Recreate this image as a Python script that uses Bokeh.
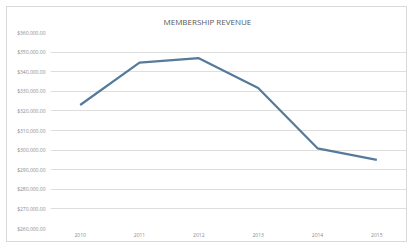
from bokeh.plotting import figure
from bokeh.models import FixedTicker, NumeralTickFormatter, Range1d
from bokeh.embed import file_html
from bokeh.resources import INLINE

years = ["2010", "2011", "2012", "2013", "2014", "2015"]
revenue = [323000, 344600, 346900, 331700, 300900, 295000]
y_ticks = [260000, 270000, 280000, 290000, 300000, 310000, 320000, 330000, 340000, 350000, 360000]
title_text = "MEMBERSHIP REVENUE"

FONT = "Open Sans"

p = figure(width=401, height=236, x_range=years, y_range=Range1d(260000, 360000),
           output_backend="svg", toolbar_location=None, title=title_text,
           min_border_left=43, min_border_right=2, min_border_top=0, min_border_bottom=15)
p.outline_line_color = None
p.background_fill_color = "white"
p.border_fill_color = "white"
p.styles = {"border": "1px solid #d9d9d9", "box-sizing": "border-box",
            "margin-left": "6px", "margin-top": "6px"}

p.title.align = "left"
p.title.offset = 113
p.title.text_font = FONT
p.title.text_font_size = "8px"
p.title.text_font_style = "normal"
p.title.text_color = "#595959"
p.title.standoff = 12

p.line(years, revenue, line_color="#557a9a", line_width=2.2)

p.xgrid.grid_line_color = None
p.ygrid.grid_line_color = "#dedede"
p.ygrid.grid_line_width = 1
p.yaxis.ticker = FixedTicker(ticks=y_ticks)
p.yaxis.formatter = NumeralTickFormatter(format="$0,0.00")

for ax in (p.xaxis[0], p.yaxis[0]):
    ax.axis_line_color = None
    ax.major_tick_line_color = None
    ax.minor_tick_line_color = None
    ax.major_tick_out = 0
    ax.major_tick_in = 0
    ax.minor_tick_out = 0
    ax.minor_tick_in = 0
    ax.major_label_text_font = FONT
    ax.major_label_text_font_size = "5px"
    ax.major_label_text_color = "#8a8a8a"
p.xaxis.major_label_standoff = 4
p.yaxis.major_label_standoff = 5

open("out.html", "w").write(file_html(p, INLINE))
